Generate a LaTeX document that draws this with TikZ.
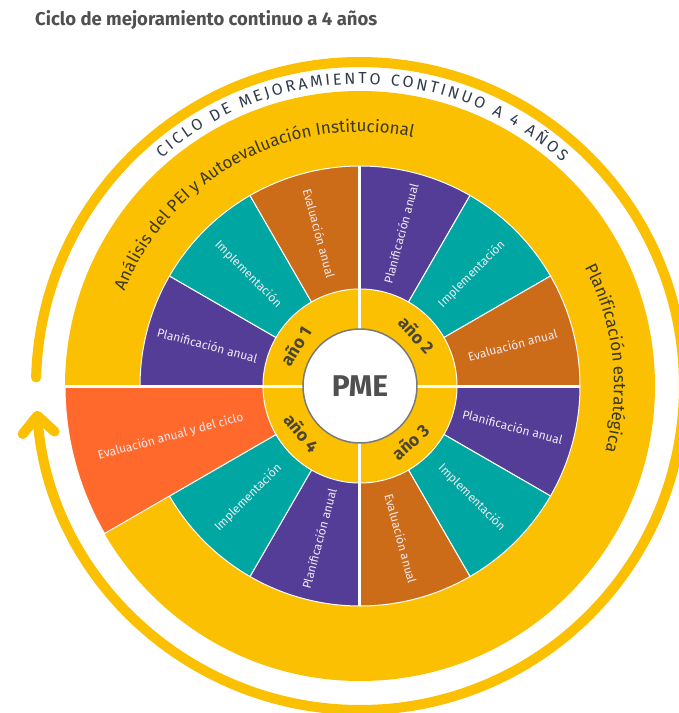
\documentclass[tikz,border=0pt]{standalone}
\usepackage{fontspec}
\setmainfont{Fira Sans}
\usetikzlibrary{arrows.meta,decorations.text}

\definecolor{pmeyellow}{HTML}{FBC002}
\definecolor{segpurple}{HTML}{543D97}
\definecolor{segteal}{HTML}{00A6A1}
\definecolor{segbrown}{HTML}{CC6B18}
\definecolor{segorange}{HTML}{FF6A2C}
\definecolor{titlegray}{HTML}{505050}
\definecolor{pmegray}{HTML}{7A7A7A}
\definecolor{yeartext}{HTML}{4A4634}
\definecolor{bandtext}{HTML}{2F3B4C}
\definecolor{disktext}{HTML}{3A3820}
\definecolor{labeltext}{HTML}{F2EAF2}

\tikzset{
  wedge/.style={draw=white, line width=1pt},
  divider/.style={white, line width=3pt},
  seglabel/.style={text=labeltext, font=\fontsize{12}{12}\selectfont, inner sep=0pt},
  yearlabel/.style={text=yeartext, font=\bfseries\fontsize{17.5}{17.5}\selectfont, inner sep=0pt},
}

\begin{document}
\begin{tikzpicture}[x=1pt,y=1pt]
	\useasboundingbox (-360,-327) rectangle (319,386);
	\clip (-360,-327) rectangle (319,386);
	\coordinate (C) at (0,0);
	% title
	\node [anchor=base west, inner sep=0pt, text=titlegray, font=\bfseries\fontsize{18.5}{19}\selectfont] (title) at (-325,360) {Ciclo de mejoramiento continuo a 4 años};
	% outer cycle arrow
	\draw [pmeyellow, line width=10pt, line cap=round, -{Straight Barb[length=17pt, width=32pt, round]}] (178.5:324) arc [start angle=178.5, end angle=-175.6, radius=324];
	% big disk
	\fill [pmeyellow] (C) circle [radius=295];
	% wedges: start angle / colour / rotation / text
	\foreach \a/\col/\rot/\txt in {150/segpurple/-15/Planificación anual, 120/segteal/-45/Implementación, 90/segbrown/-75/Evaluación anual,
		60/segpurple/75/Planificación anual, 30/segteal/45/Implementación, 0/segbrown/15/Evaluación anual,
		330/segpurple/-15/Planificación anual, 300/segteal/-45/Implementación, 270/segbrown/-75/Evaluación anual,
		240/segpurple/75/Planificación anual, 210/segteal/45/Implementación}
	{
		\filldraw [wedge, fill=\col] (\a:97) arc [start angle=\a, end angle=\a+30, radius=97] -- ({\a+30}:220) arc [start angle=\a+30, end angle=\a, radius=220] -- cycle;
		\node [seglabel, rotate=\rot] (lab\a) at ({\a+15}:158) {\txt};
	}
	\filldraw [wedge, fill=segorange] (180:97) arc [start angle=180, end angle=210, radius=97] -- (210:295) arc [start angle=210, end angle=180, radius=295] -- cycle;
	\node [seglabel, rotate=15] (lab180) at (195:196) {Evaluación anual y del ciclo};
	% quadrant dividers
	\foreach \a in {0,90,270}
		\draw [divider] (\a:57) -- (\a:220);
	\draw [divider] (180:57) -- (180:295);
	% centre
	\node [circle, fill=white, draw=pmegray, line width=1.5pt, minimum size=114pt, inner sep=0pt, text=titlegray, font=\bfseries\fontsize{30}{30}\selectfont] (pme) at (C) {PME};
	\node [yearlabel, rotate=58] (year1) at (148:76) {año 1};
	\node [yearlabel, rotate=-48] (year2) at (42:76) {año 2};
	\node [yearlabel, rotate=42] (year3) at (-48:75) {año 3};
	\node [yearlabel, rotate=-51] (year4) at (219:75) {año 4};
	% curved texts
	\path [decorate, decoration={text along path, text align=center, text color=disktext,
		text={|\fontsize{17}{17}\selectfont|Análisis del PEI y Autoevaluación Institucional}}]
		(170:254) arc [start angle=170, end angle=66, radius=254];
	\path [decorate, decoration={text along path, text align=center, text color=disktext,
		text={|\fontsize{17}{17}\selectfont|Planificación estratégica}}]
		(45:254) arc [start angle=45, end angle=-32, radius=254];
	\path [decorate, decoration={text along path, text align=fit to path, text color=bandtext,
		text={|\fontsize{16}{16}\selectfont|CICLO DE MEJORAMIENTO CONTINUO A 4 AÑOS}}]
		(131:302) arc [start angle=131, end angle=48, radius=302];
\end{tikzpicture}
\end{document}
